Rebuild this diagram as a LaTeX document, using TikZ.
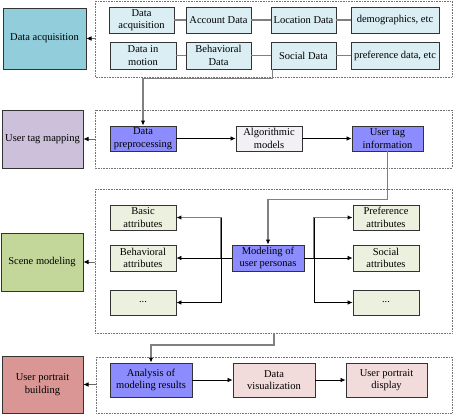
\documentclass[tikz,border=0pt]{standalone}
\usepackage{fontspec}
\setmainfont{Liberation Serif}
\usetikzlibrary{arrows.meta}
\definecolor{cTeal}{HTML}{92CDDC}
\definecolor{cLav}{HTML}{CCC0DA}
\definecolor{cGreen}{HTML}{C4D79B}
\definecolor{cRed}{HTML}{DA9694}
\definecolor{cCyan}{HTML}{DAEEF3}
\definecolor{cBlue}{HTML}{8C8CFF}
\definecolor{cAlg}{HTML}{F2F0F5}
\definecolor{cLGreen}{HTML}{EBF1DE}
\definecolor{cPink}{HTML}{F2DCDB}
\definecolor{cLine}{HTML}{808080}
\tikzset{
  box/.style={draw=black!80, line width=0.9pt, inner sep=0pt, align=center,
    font=\fontsize{10.5}{12.5}\selectfont},
  sidebox/.style={box, line width=1pt},
  group/.style={draw=black!55, densely dotted, line width=0.6pt},
  glink/.style={draw=cLine, line width=1.6pt},
  tip/.style={-{Latex[length=5pt,width=4.5pt,black]}},
  garr/.style={glink, tip},
  barr/.style={draw=black, line width=0.7pt, tip},
  larr/.style={draw=black!60, line width=0.6pt, tip},
}
\begin{document}
\begin{tikzpicture}[x=1pt,y=-1pt]
\useasboundingbox (0,0) rectangle (456,416);
% groups
\draw[group] (95,1) rectangle (452,77);
\draw[group] (95,110) rectangle (452,168);
\draw[group] (95,189) rectangle (452,333);
\draw[group] (96,357) rectangle (452,413);
\coordinate (g1w) at (95,38.5);
\coordinate (g2w) at (95,139);
\coordinate (g3w) at (95,262);
\coordinate (g4w) at (96,384.5);
\coordinate (g3s) at (274,333);
% side boxes
\node[sidebox, fill=cTeal, minimum width=83pt, minimum height=61pt] (L1) at (44.5,38.5) {Data acquisition};
\node[sidebox, fill=cLav, minimum width=81pt, minimum height=58pt] (L2) at (42.5,139) {User tag mapping};
\node[sidebox, fill=cGreen, minimum width=82pt, minimum height=58pt] (L3) at (42,262) {Scene modeling};
\node[sidebox, fill=cRed, minimum width=81pt, minimum height=57pt] (L4) at (42.5,384.5) {User portrait\\building};
% group 1
\node[box, fill=cCyan, minimum width=65pt, minimum height=26pt] (a1) at (141.5,20) {Data\\acquisition};
\node[box, fill=cCyan, minimum width=65pt, minimum height=26pt] (a2) at (218.5,20) {Account Data};
\node[box, fill=cCyan, minimum width=65pt, minimum height=26pt] (a3) at (303.5,20) {Location Data};
\node[box, fill=cCyan, minimum width=88pt, minimum height=26pt] (a4) at (395,20) {demographics, etc};
\node[box, fill=cCyan, minimum width=66pt, minimum height=27pt] (b1) at (143,55.5) {Data in\\motion};
\node[box, fill=cCyan, minimum width=65pt, minimum height=27pt] (b2) at (218.5,55.5) {Behavioral\\Data};
\node[box, fill=cCyan, minimum width=65pt, minimum height=27pt] (b3) at (303.5,55.5) {Social Data};
\node[box, fill=cCyan, minimum width=88pt, minimum height=27pt] (b4) at (395,55.5) {preference data, etc};
\draw[glink] (a1) -- (a2);
\draw[glink] (a2) -- (a3);
\draw[glink] (a3) -- (a4);
\draw[glink] (b1) -- (b2);
\draw[glink] (b2) -- (b3);
\draw[glink] (b3) -- (b4);
% group 2
\node[box, fill=cBlue, minimum width=66pt, minimum height=25pt] (p1) at (143,138.5) {Data\\preprocessing};
\node[box, fill=cAlg, minimum width=66pt, minimum height=25pt] (p2) at (269,138.5) {Algorithmic\\models};
\node[box, fill=cBlue, minimum width=71pt, minimum height=25pt] (p3) at (387.5,138.5) {User tag\\information};
\draw[barr] (p1) -- (p2);
\draw[barr] (p2) -- (p3);
% group 3
\node[box, fill=cLGreen, minimum width=66pt, minimum height=25pt] (c1) at (143,217.5) {Basic\\attributes};
\node[box, fill=cLGreen, minimum width=66pt, minimum height=26pt] (c2) at (143,258) {Behavioral\\attributes};
\node[box, fill=cLGreen, minimum width=66pt, minimum height=25pt] (c3) at (143,302.5) {...};
\node[box, fill=cBlue, minimum width=72pt, minimum height=26pt] (m) at (268,258) {Modeling of\\user personas};
\node[box, fill=cLGreen, minimum width=66pt, minimum height=25pt] (d1) at (386,217.5) {Preference\\attributes};
\node[box, fill=cLGreen, minimum width=66pt, minimum height=26pt] (d2) at (386,258) {Social\\attributes};
\node[box, fill=cLGreen, minimum width=66pt, minimum height=25pt] (d3) at (386,302.5) {...};
\coordinate (jl) at (221,258);
\coordinate (jr) at (314,258);
\draw[barr] (m) -- (c2);
\draw[garr] (jl) |- (c1.east);
\draw[barr] (jl) |- (c3.east);
\draw[draw=black, line width=0.7pt] (jl |- c1.east) -- (jl |- c3.east);
\draw[barr] (m) -- (d2);
\draw[garr] (jr) |- (d1.west);
\draw[barr] (jr) |- (d3.west);
\draw[draw=black, line width=0.7pt] (jr |- d1.west) -- (jr |- d3.west);
% group 4
\node[box, fill=cBlue, minimum width=82pt, minimum height=34pt] (r1) at (151,380) {Analysis of\\modeling results};
\node[box, fill=cPink, minimum width=82pt, minimum height=34pt] (r2) at (274,380) {Data\\visualization};
\node[box, fill=cPink, minimum width=81pt, minimum height=34pt] (r3) at (386.5,380) {User portrait\\display};
\draw[barr] (r1) -- (r2);
\draw[barr] (r2) -- (r3);
% inter-group connectors
\draw[garr] ([xshift=2pt]b3.south west) -- ++(0,9) -| (p1.north);
\draw[garr] (p3.south) -- ++(0,48) -| (m.north);
\draw[garr] (g3s) -- ++(0,12) -| (r1.north);
% group to side arrows
\draw[larr] (g1w) -- (L1.east);
\draw[larr] (g2w) -- (L2.east);
\draw[larr] (g3w) -- (L3.east);
\draw[larr] (g4w) -- (L4.east);
\end{tikzpicture}
\end{document}
